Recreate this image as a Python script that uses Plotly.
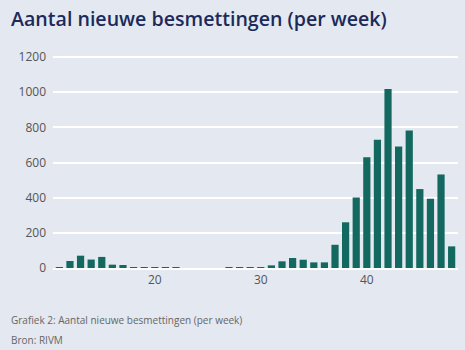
import plotly.graph_objects as go

weeks = list(range(11, 49))
cases = [3, 40, 70, 48, 63, 19, 17, 5, 4,
         1, 1, 1, 0, 0, 0, 0, 1, 1, 2,
         5, 15, 38, 57, 47, 32, 32, 132, 260, 401,
         630, 729, 1018, 691, 782, 449, 394, 532, 123]

title_text = "Aantal nieuwe besmettingen (per week)"
caption = "Grafiek 2: Aantal nieuwe besmettingen (per week)"
source = "Bron: RIVM"

bg = "#e4e8f0"
W, H = 465, 350
ML, MR, MT, MB = 53, 7, 50, 82
plot_h = H - MT - MB
plot_w = W - ML - MR

def py(p):
    return (H - MB - p) / plot_h

def px(p):
    return (p - ML) / plot_w

fig = go.Figure(go.Bar(x=weeks, y=cases, marker_color="#13695f", marker_line_width=0))

fig.update_layout(
    width=W, height=H,
    paper_bgcolor=bg, plot_bgcolor=bg,
    margin=dict(l=ML, r=MR, t=MT, b=MB),
    bargap=0.32,
    showlegend=False,
    font=dict(family="Open Sans", color="#555"),
    annotations=[
        dict(text=title_text, x=px(9), y=py(18), xref="paper", yref="paper",
             showarrow=False, xanchor="left", yanchor="middle",
             font=dict(size=19.6, color="#1c2a5a", family="Open Sans", weight=600)),
        dict(text=caption, x=px(9), y=py(320), xref="paper", yref="paper",
             showarrow=False, xanchor="left", yanchor="middle",
             font=dict(size=10, color="#666")),
        dict(text=source, x=px(9), y=py(340), xref="paper", yref="paper",
             showarrow=False, xanchor="left", yanchor="middle",
             font=dict(size=10, color="#666")),
    ],
)

fig.update_xaxes(range=[10.4, 48.6], tickvals=[20, 30, 40], showgrid=False,
                 zeroline=False, showline=True, linecolor="white", linewidth=1.5,
                 tickfont=dict(size=12, color="#555"), ticks="")
fig.update_yaxes(range=[0, 1240], tickvals=[0, 200, 400, 600, 800, 1000, 1200],
                 showgrid=True, gridcolor="white", gridwidth=1.5, zeroline=False,
                 tickfont=dict(size=12, color="#555"), ticklabelstandoff=6)

fig.write_html("out.html")
